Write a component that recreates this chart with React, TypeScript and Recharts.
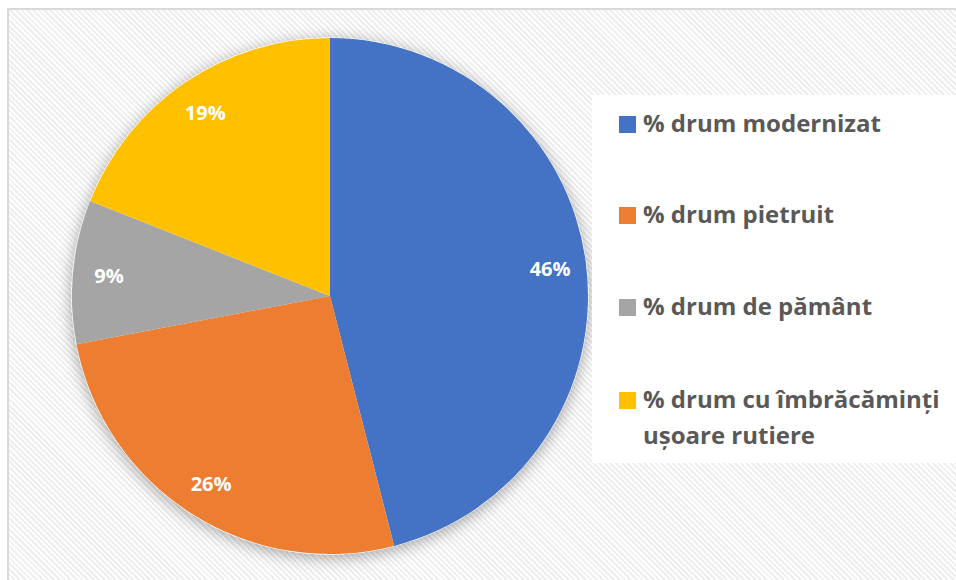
import React from "react";
import { PieChart, Pie, Cell } from "recharts";

// road surface shares (%)
const categories = [
  "% drum modernizat",
  "% drum pietruit",
  "% drum de pământ",
  "% drum cu îmbrăcăminți ușoare rutiere",
];
const shares = [46, 26, 9, 19];
const colors = ["#4472C4", "#ED7D31", "#A5A5A5", "#FFC000"];

const data = categories.map((name, i) => ({ name, value: shares[i] }));

const W = 956;
const H = 580;
const FONT = "'Open Sans', 'Noto Sans', sans-serif";
const RAD = Math.PI / 180;

function SliceLabel(props: any) {
  const { cx, cy, midAngle, outerRadius, value } = props;
  const r = outerRadius * 0.86;
  const x = cx + r * Math.cos(-midAngle * RAD);
  const y = cy + r * Math.sin(-midAngle * RAD);
  return (
    <text
      x={x}
      y={y}
      fill="#ffffff"
      textAnchor="middle"
      dominantBaseline="central"
      style={{ fontFamily: FONT, fontSize: 20, fontWeight: 700 }}
    >
      {value}%
    </text>
  );
}

// legend rows: y centre of first line, wrapped lines
const legendRows = [
  { top: 124, lines: ["% drum modernizat"] },
  { top: 215, lines: ["% drum pietruit"] },
  { top: 307, lines: ["% drum de pământ"] },
  { top: 400, lines: ["% drum cu îmbrăcăminți", "ușoare rutiere"] },
];

function LegendBox() {
  return (
    <div
      style={{
        position: "absolute",
        left: 592,
        top: 95,
        width: 364,
        height: 368,
        background: "#ffffff",
      }}
    >
      {legendRows.map((row, i) => (
        <div key={categories[i]}>
          <div
            style={{
              position: "absolute",
              left: 27,
              top: row.top - 95 - 8,
              width: 17,
              height: 17,
              background: colors[i],
            }}
          />
          {row.lines.map((ln, j) => (
            <div
              key={ln}
              style={{
                position: "absolute",
                left: 51,
                top: row.top - 95 - 17 + j * 36,
                height: 32,
                lineHeight: "32px",
                fontFamily: FONT,
                fontWeight: 700,
                fontSize: 24,
                color: "#595959",
                whiteSpace: "nowrap",
              }}
            >
              {ln}
            </div>
          ))}
        </div>
      ))}
    </div>
  );
}

export default function App() {
  return (
    <div
      style={{
        position: "absolute",
        left: 0,
        top: 0,
        width: W,
        height: H,
        background: "#ffffff",
        overflow: "hidden",
      }}
    >
      <div
        style={{
          position: "absolute",
          left: 7,
          top: 8,
          width: W,
          height: H,
          border: "2px solid #d9d9d9",
          background:
            "repeating-linear-gradient(45deg, #ffffff 0px, #ffffff 2px, #eeeeee 2px, #eeeeee 4px)",
        }}
      />
      <PieChart
        width={W}
        height={H}
        margin={{ top: 0, right: 0, bottom: 0, left: 0 }}
        style={{ position: "absolute", left: 0, top: 0 }}
      >
        <defs>
          <filter id="pieShadow" x="-20%" y="-20%" width="140%" height="140%">
            <feDropShadow dx="0" dy="3" stdDeviation="8" floodColor="#000" floodOpacity="0.35" />
          </filter>
        </defs>
        {/* shadow layer behind the slices */}
        <Pie
          data={data}
          dataKey="value"
          cx={330}
          cy={296}
          outerRadius={258}
          startAngle={90}
          endAngle={-270}
          fill="#ffffff"
          stroke="#ffffff"
          strokeWidth={1}
          isAnimationActive={false}
          style={{ filter: "url(#pieShadow)" }}
        >
          {data.map((d) => (
            <Cell key={d.name} fill="#ffffff" style={{ filter: "url(#pieShadow)" }} />
          ))}
        </Pie>
        <Pie
          data={data}
          dataKey="value"
          nameKey="name"
          cx={330}
          cy={296}
          outerRadius={258}
          startAngle={90}
          endAngle={-270}
          stroke="none"
          label={SliceLabel}
          labelLine={false}
          isAnimationActive={false}
        >
          {data.map((d, i) => (
            <Cell key={d.name} fill={colors[i]} />
          ))}
        </Pie>
      </PieChart>
      <LegendBox />
    </div>
  );
}
